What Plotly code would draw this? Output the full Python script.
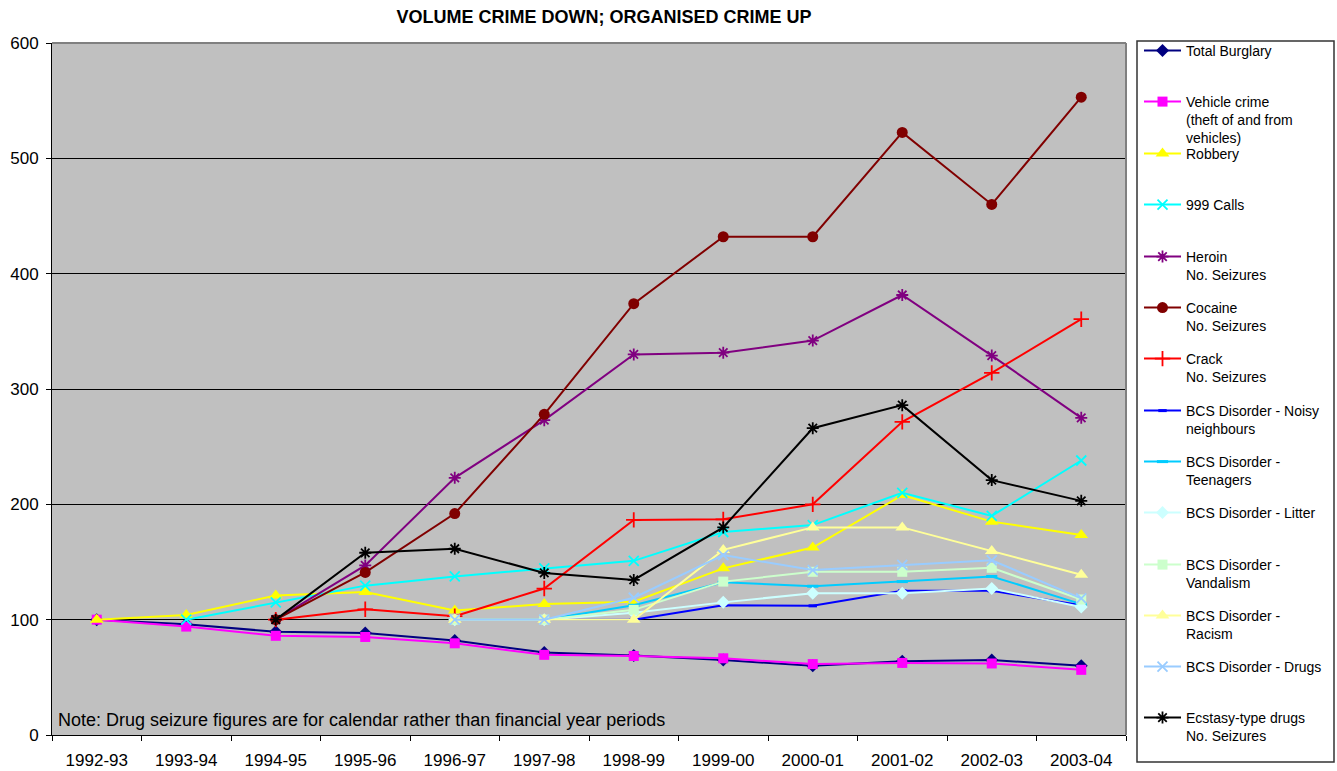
import plotly.graph_objects as go

# Financial years on the category axis
years = ["1992-93", "1993-94", "1994-95", "1995-96", "1996-97", "1997-98",
         "1998-99", "1999-00", "2000-01", "2001-02", "2002-03", "2003-04"]

# Index values (first available year = 100)
total_burglary = [100, 96, 89.5, 88.5, 82, 71.5, 69, 65, 60, 64, 65, 60]
vehicle_crime = [100, 94, 86, 85, 79.5, 69.5, 68.5, 66.5, 61.5, 62.5, 62, 56.5]
robbery = [100, 104, 121, 124, 108, 113.5, 115.5, 144.5, 162.5, 208, 185, 173.5]
calls_999 = [None, 100, 115, 129.5, 137.5, 144.5, 151, 176, 182, 210, 190, 238]
heroin = [None, None, 100, 147, 223, 273, 330, 331.5, 342, 381.5, 329, 275]
cocaine = [None, None, 100, 141, 192, 278, 374, 432, 432, 522.5, 460, 553]
crack = [None, None, 100, 109, 103, 127, 186.5, 187, 200, 271.5, 314, 360.5]
bcs_noisy = [None, None, None, None, 100, 100, 100, 112.5, 112, 125, 125, 112.5]
bcs_teenagers = [None, None, None, None, 100, 100, 112.5, 132.5, 129, 133, 137.5, 113.5]
bcs_litter = [None, None, None, None, 100, 100, 106, 115, 123, 123, 127, 111]
bcs_vandalism = [None, None, None, None, 100, 100, 108.5, 133, 141.5, 141.5, 145, 117.5]
bcs_racism = [None, None, None, None, 100, 100, 100, 160.5, 180, 180, 159.5, 139]
bcs_drugs = [None, None, None, None, 100, 100, 119, 156, 143, 147.5, 151.5, 118.5]
ecstasy = [None, None, 100, 158, 161.5, 140.5, 134.5, 180, 266, 286, 221, 203]

FONT = "Arial, Liberation Sans, sans-serif"

# name, values, colour, symbol, marker size
series = [
    ("Total Burglary", total_burglary, "#000080", "diamond", 10),
    ("Vehicle crime<br>(theft of and from<br>vehicles)", vehicle_crime, "#FF00FF", "square", 10),
    ("Robbery", robbery, "#FFFF00", "triangle-up", 12),
    ("999 Calls", calls_999, "#00FFFF", "x-thin-open", 10),
    ("Heroin<br>No. Seizures", heroin, "#800080", "asterisk-open", 10),
    ("Cocaine<br>No. Seizures", cocaine, "#800000", "circle", 11),
    ("Crack<br>No. Seizures", crack, "#FF0000", "cross-thin-open", 11),
    ("BCS Disorder - Noisy<br>neighbours", bcs_noisy, "#0000FF", "line-ew-open", 6),
    ("BCS Disorder -<br>Teenagers", bcs_teenagers, "#00CCFF", "line-ew-open", 8),
    ("BCS Disorder - Litter", bcs_litter, "#CCFFFF", "diamond", 10),
    ("BCS Disorder -<br>Vandalism", bcs_vandalism, "#CCFFCC", "square", 10),
    ("BCS Disorder -<br>Racism", bcs_racism, "#FFFF99", "triangle-up", 12),
    ("BCS Disorder - Drugs", bcs_drugs, "#99CCFF", "x-thin-open", 10),
    ("Ecstasy-type drugs<br>No. Seizures", ecstasy, "#000000", "asterisk-open", 10),
]

# Legend rows: centre of the first text line of each entry, in page pixels
legend_first_line = [50, 101, 153, 204, 256, 307, 358, 410, 461, 512, 564, 615, 666, 717]

W, H = 1337, 771
fig = go.Figure()
layout_legends = {}
for i, (name, vals, col, sym, size) in enumerate(series):
    lg = "legend" if i == 0 else f"legend{i + 1}"
    open_sym = sym.endswith("-open")
    marker = dict(symbol=sym, size=size, color=col)
    if open_sym:
        marker["line"] = dict(color=col, width=3 if sym.startswith("line") else 1.8)
    else:
        marker["line"] = dict(width=0)
    fig.add_trace(go.Scatter(
        x=years, y=vals, name=name, mode="lines+markers",
        line=dict(color=col, width=2), marker=marker,
        legend=lg,
    ))
    top = legend_first_line[i] - 15
    layout_legends[lg] = dict(
        x=1139 / W, xref="container", xanchor="left",
        y=1 - top / H, yref="container", yanchor="top",
        bgcolor="rgba(0,0,0,0)", borderwidth=0,
        font=dict(family=FONT, size=14, color="#000000"),
        itemwidth=37, valign="top",
    )

# plot area in pixels: x 52..1126, y 43..735
pl, pr, pt, pb = 52, 1126, 43, 735
pw, ph = pr - pl, pb - pt

def px_to_paper_x(px):
    return (px - pl) / pw

def px_to_paper_y(py):
    return (pb - py) / ph

fig.update_layout(
    width=W, height=H,
    margin=dict(l=pl, r=W - pr, t=pt, b=H - pb, autoexpand=False),
    paper_bgcolor="#FFFFFF",
    plot_bgcolor="#C0C0C0",
    font=dict(family=FONT, color="#000000"),
    title=dict(
        text="<b>VOLUME CRIME DOWN; ORGANISED CRIME UP</b>",
        x=px_to_paper_x(604), xref="paper", xanchor="center",
        y=1 - 17 / H, yref="container", yanchor="middle",
        font=dict(family=FONT, size=18, color="#000000"),
    ),
    xaxis=dict(
        type="category", tickson="boundaries", ticks="outside", ticklen=5,
        tickcolor="#000000", showline=True, linecolor="#000000", linewidth=1,
        showgrid=False, tickfont=dict(size=17), ticklabelstandoff=10,
        range=[-0.5, 11.5],
    ),
    yaxis=dict(
        range=[0, 600], dtick=100, ticks="outside", ticklen=5,
        tickcolor="#000000", showline=True, linecolor="#000000", linewidth=1,
        showgrid=True, gridcolor="#000000", gridwidth=1, zeroline=False,
        tickfont=dict(size=17), ticklabelstandoff=4,
    ),
    showlegend=True,
    shapes=[
        # grey frame on top and right of plot area
        dict(type="line", xref="paper", yref="paper", x0=0, x1=1, y0=1, y1=1,
             line=dict(color="#808080", width=2), layer="above"),
        dict(type="line", xref="paper", yref="paper", x0=1, x1=1, y0=0, y1=1,
             line=dict(color="#808080", width=2), layer="above"),
        # legend frame
        dict(type="rect", xref="paper", yref="paper",
             x0=px_to_paper_x(1137), x1=px_to_paper_x(1334),
             y0=px_to_paper_y(762), y1=px_to_paper_y(41),
             line=dict(color="#333333", width=1.5), fillcolor="rgba(0,0,0,0)"),
    ],
    annotations=[
        dict(text="Note: Drug seizure figures are for calendar rather than financial year periods",
             xref="paper", yref="paper", x=px_to_paper_x(56), y=px_to_paper_y(720),
             xanchor="left", yanchor="middle", showarrow=False,
             font=dict(family=FONT, size=18, color="#000000")),
    ],
    **layout_legends,
)

fig.write_html("out.html")
